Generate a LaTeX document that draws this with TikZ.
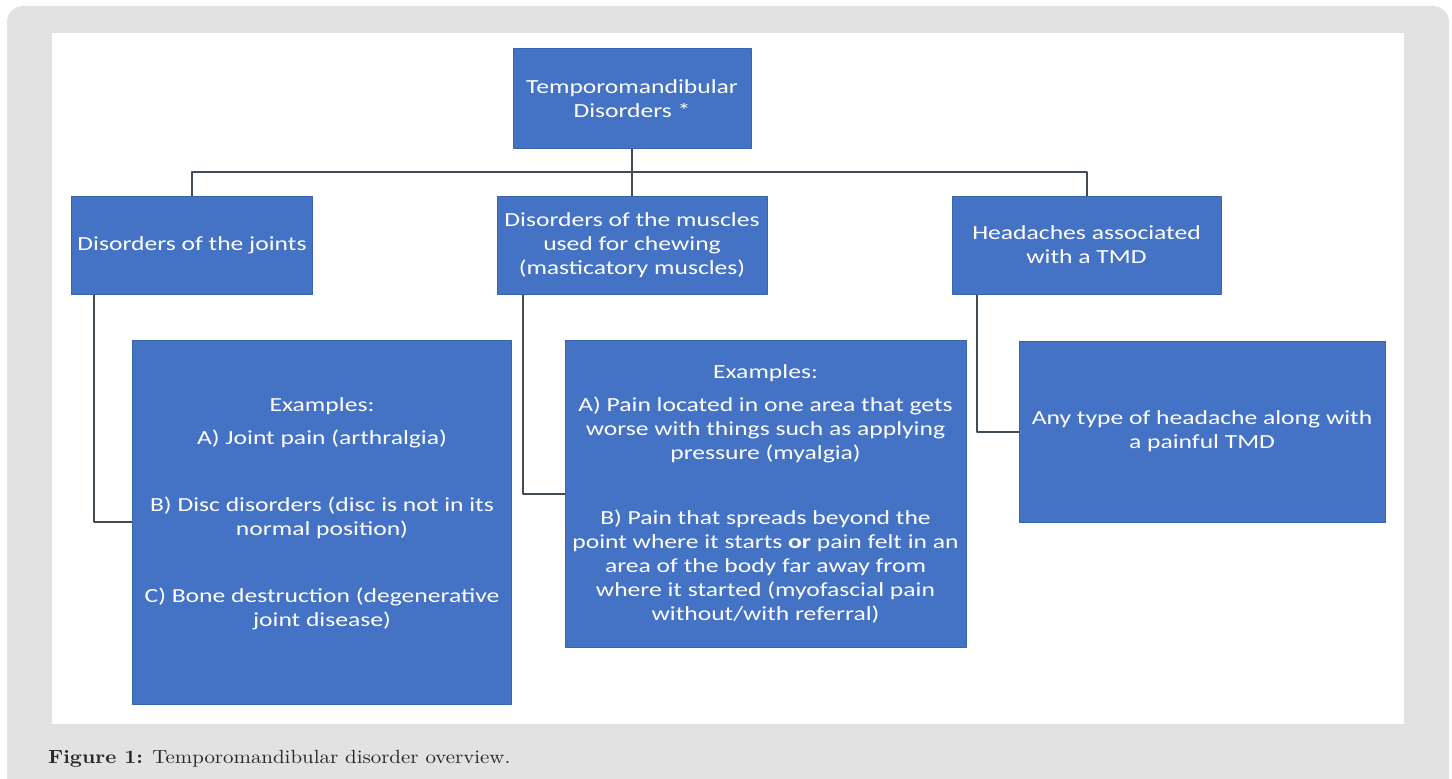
\documentclass[tikz,border=0pt]{standalone}
\usepackage{fontspec}
\newfontfamily\boxfont{Carlito}[FakeStretch=1.28]
\newfontfamily\capfont{lmroman10-regular.otf}[FakeStretch=1.1,BoldFont=lmroman10-bold.otf]
\definecolor{tmdblue}{HTML}{4472C4}
\definecolor{tmdedge}{HTML}{3B64AE}
\definecolor{tmdline}{HTML}{414B56}
\definecolor{pagegray}{HTML}{E2E2E2}
\begin{document}
\begin{tikzpicture}[x=1bp,y=-1bp,line join=round,
	box/.style={draw=tmdedge,line width=1bp,fill=tmdblue,text=white,align=center,inner sep=0pt,
		font=\boxfont\fontsize{20bp}{24bp}\selectfont},
	link/.style={draw=tmdline,line width=2bp}]
	\useasboundingbox (0,0) rectangle (1452,778);
	\begin{scope}
		\clip (0,0) rectangle (1452,778);
		\fill[pagegray,rounded corners=16bp] (7,6) rectangle (1449,800);
		\fill[white] (52,33) rectangle (1404,724);
	\end{scope}
	% top level
	\node[box,minimum width=238bp,minimum height=99bp] (tmd) at (632,98.5) {Temporomandibular\\Disorders *};
	% second level
	\node[box,minimum width=240bp,minimum height=98bp] (joints) at (192,245) {Disorders of the joints};
	\node[box,minimum width=270bp,minimum height=98bp] (muscles) at (632,245) {Disorders of the muscles\\used for chewing\\(masticatory muscles)};
	\node[box,minimum width=269bp,minimum height=98bp] (heads) at (1086.5,245) {Headaches associated\\with a TMD};
	% examples
	\node[box,minimum width=378bp,minimum height=364bp] (jointsEx) at (322,522) {Examples:\\[9bp]
		A) Joint pain (arthralgia)\\[43bp]
		B) Disc disorders (disc is not in its\\normal position)\\[43bp]
		C) Bone destruction (degenerative\\joint disease)\\[-4bp]\mbox{}};
	\node[box,minimum width=401bp,minimum height=307bp] (musclesEx) at (765.5,493.5) {Examples:\\[9bp]
		A) Pain located in one area that gets\\worse with things such as applying\\pressure (myalgia)\\[41bp]
		B) Pain that spreads beyond the\\point where it starts \textbf{or} pain felt in an\\area of the body far away from\\where it started (myofascial pain\\without/with referral)};
	\node[box,minimum width=366bp,minimum height=181bp] (headsEx) at (1202,431.5) {Any type of headache along with\\a painful TMD};
	% connectors
	\coordinate (bus) at (632,172);
	\draw[link] (tmd.south) -- (muscles.north);
	\draw[link] (joints.north) |- (bus) -| (heads.north);
	\draw[link] ([xshift=22bp]joints.south west) |- (jointsEx.west);
	\draw[link] ([xshift=26bp]muscles.south west) |- (musclesEx.west);
	\draw[link] ([xshift=25bp]heads.south west) |- (headsEx.west);
	% caption
	\node[anchor=base west,inner sep=0pt,text=black!85,font=\capfont\fontsize{19bp}{22bp}\selectfont] (caption) at (48,763)
		{\textbf{Figure 1:} Temporomandibular disorder overview.};
\end{tikzpicture}
\end{document}
